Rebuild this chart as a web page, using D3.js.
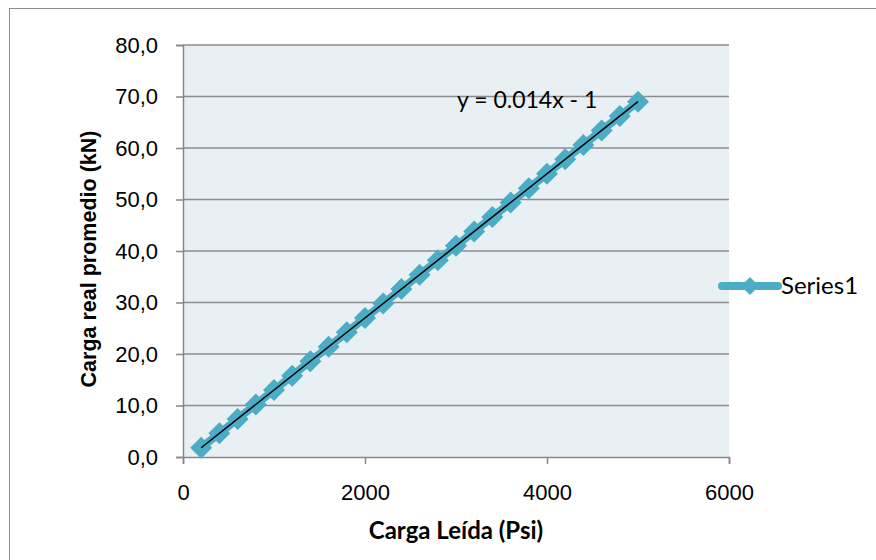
<!DOCTYPE html>
<html>
<head>
<meta charset="utf-8">
<script src="https://cdn.jsdelivr.net/npm/d3@7"></script>
<style>
  body { margin: 0; background: #fff; }
  svg { display: block; font-family: Lato, "Open Sans", sans-serif; }
</style>
</head>
<body>
<div id="chart"></div>
<script>
/* Excel style scatter with trendline */

const xValues = [200, 400, 600, 800, 1000, 1200, 1400, 1600, 1800, 2000, 2200, 2400, 2600,
                 2800, 3000, 3200, 3400, 3600, 3800, 4000, 4200, 4400, 4600, 4800, 5000]
const yValues = [1.8, 4.6, 7.4, 10.2, 13.0, 15.8, 18.6, 21.4, 24.2, 27.0, 29.8, 32.6, 35.4,
                 38.2, 41.0, 43.8, 46.6, 49.4, 52.2, 55.0, 57.8, 60.6, 63.4, 66.2, 69.0]
const xTicks = [0, 2000, 4000, 6000]
const yTicks = [0, 10, 20, 30, 40, 50, 60, 70, 80]
const trendEnds = [[200, 1.8], [5000, 69.0]]
const seriesName = "Series1"
const equation = "y = 0.014x - 1"

const width = 876, height = 560
const margin = {top: 45, right: 147, bottom: 103, left: 183}
const color = "#4bacc6"

const data = xValues.map((x, i) => [x, yValues[i]])

const svg = d3.select("#chart").append("svg")
  .attr("width", width).attr("height", height)

// outer chart border
svg.append("rect")
  .attr("x", 9.5).attr("y", 8.5)
  .attr("width", width).attr("height", height)
  .attr("fill", "#fff").attr("stroke", "#8c8c8c").attr("stroke-width", 1)

const x = d3.scaleLinear().domain([0, 6000]).range([margin.left, width - margin.right])
const y = d3.scaleLinear().domain([0, 80]).range([height - margin.bottom, margin.top])

// plot area
svg.append("rect")
  .attr("x", x(0)).attr("y", y(80))
  .attr("width", x(6000) - x(0)).attr("height", y(0) - y(80))
  .attr("fill", "#e9f0f4")

// gridlines
svg.append("g")
  .selectAll("line").data(yTicks.slice(1))
  .join("line")
  .attr("x1", x(0)).attr("x2", x(6000))
  .attr("y1", d => y(d)).attr("y2", d => y(d))
  .attr("stroke", "#8c8c8c").attr("stroke-width", 1.5)

const fmt = d => d3.format(".1f")(d).replace(".", ",")

svg.append("g")
  .attr("transform", `translate(${x(0)},0)`)
  .call(d3.axisLeft(y).tickValues(yTicks).tickFormat(fmt).tickSize(7).tickPadding(18))
  .call(g => g.selectAll(".domain,line").attr("stroke", "#868686").attr("stroke-width", 1.5))
  .call(g => g.selectAll("text").attr("font-size", 22).attr("fill", "#000").attr("font-family", null))

svg.append("g")
  .attr("transform", `translate(0,${y(0)})`)
  .call(d3.axisBottom(x).tickValues(xTicks).tickFormat(d3.format("d")).tickSize(7).tickPadding(20))
  .call(g => g.selectAll(".domain,line").attr("stroke", "#868686").attr("stroke-width", 1.5))
  .call(g => g.selectAll("text").attr("font-size", 22).attr("fill", "#000").attr("font-family", null))

// series line
const line = d3.line().x(d => x(d[0])).y(d => y(d[1]))
svg.append("path")
  .datum(data)
  .attr("fill", "none")
  .attr("stroke", color)
  .attr("stroke-width", 8)
  .attr("stroke-linejoin", "round")
  .attr("d", line)

const diamond = (cx, cy, r) => `M${cx},${cy - r}L${cx + r},${cy}L${cx},${cy + r}L${cx - r},${cy}Z`

svg.append("g")
  .selectAll("path").data(data)
  .join("path")
  .attr("d", d => diamond(x(d[0]), y(d[1]), 11))
  .attr("fill", color)

// trendline
svg.append("path")
  .datum(trendEnds)
  .attr("fill", "none")
  .attr("stroke", "#000")
  .attr("stroke-width", 1.5)
  .attr("d", line)

svg.append("text")
  .attr("x", 457).attr("y", 108)
  .attr("font-size", 23)
  .text(equation)

// legend
svg.append("line")
  .attr("x1", 722).attr("x2", 778).attr("y1", 286).attr("y2", 286)
  .attr("stroke", color).attr("stroke-width", 8).attr("stroke-linecap", "round")
svg.append("path")
  .attr("d", diamond(750, 286, 9))
  .attr("fill", color)
svg.append("text")
  .attr("x", 781).attr("y", 294)
  .attr("font-size", 24)
  .text(seriesName)

// axis titles
svg.append("text")
  .attr("x", (x(0) + x(6000)) / 2).attr("y", 539)
  .attr("text-anchor", "middle")
  .attr("font-size", 24).attr("font-weight", "bold")
  .text("Carga Leída (Psi)")

svg.append("text")
  .attr("transform", `translate(96,259) rotate(-90)`)
  .attr("text-anchor", "middle")
  .attr("font-family", "'Liberation Sans', Arial, sans-serif")
  .attr("font-size", 21.5).attr("font-weight", "bold")
  .text("Carga real promedio (kN)")
</script>
</body>
</html>
